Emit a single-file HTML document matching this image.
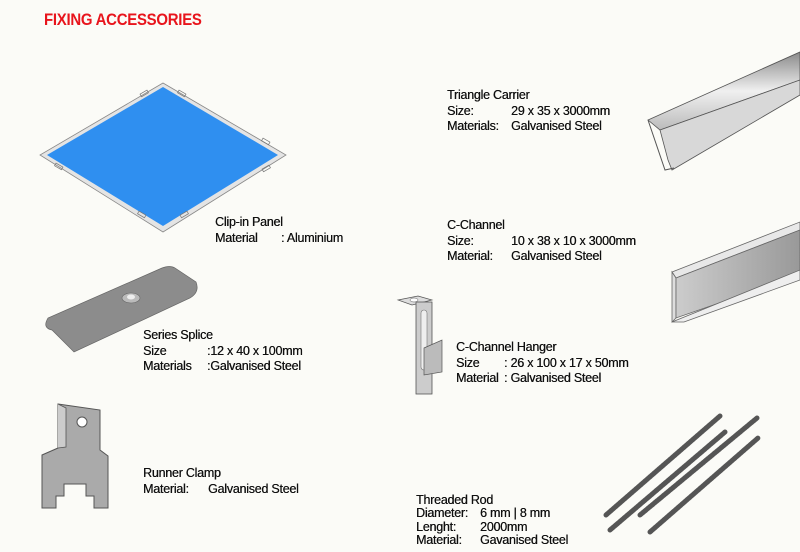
<!DOCTYPE html>
<html><head><meta charset="utf-8"><style>
body{margin:0;width:800px;height:552px;background:#fbfbf7;position:relative;overflow:hidden;font-family:"Liberation Sans Narrow","Liberation Sans",sans-serif;}
.t{position:absolute;font-size:12.5px;line-height:15.5px;color:#111;white-space:pre;letter-spacing:-0.25px;text-shadow:0.3px 0 0 #111;}
.t span{display:inline-block}
svg{position:absolute;left:0;top:0}
</style></head><body>
<svg width="800" height="552" viewBox="0 0 800 552">
<defs>
<linearGradient id="g1" x1="0" y1="0" x2="0" y2="1"><stop offset="0" stop-color="#8a8a8a"/><stop offset="0.5" stop-color="#f0f0f0"/><stop offset="1" stop-color="#bbb"/></linearGradient>
<linearGradient id="g2" x1="0" y1="0" x2="1" y2="0"><stop offset="0" stop-color="#ccc"/><stop offset="1" stop-color="#999"/></linearGradient>
</defs>
<polygon points="163,83 286,155 163,232 40,155" fill="#e4e4e4" stroke="#888" stroke-width="0.8"/>
<polygon points="163,87 278,155 163,226 47,155" fill="#2f8ff0"/>
<g fill="none" stroke="#777" stroke-width="0.7">
<rect x="140" y="92" width="8" height="3" transform="rotate(-30 144 93)"/>
<rect x="178" y="92" width="8" height="3" transform="rotate(30 182 93)"/>
<rect x="262" y="140" width="8" height="3" transform="rotate(30 266 141)"/>
<rect x="55" y="165" width="8" height="3" transform="rotate(30 59 166)"/>
<rect x="262" y="167" width="8" height="3" transform="rotate(-30 266 168)"/>
<rect x="138" y="213" width="8" height="3" transform="rotate(30 142 214)"/>
<rect x="180" y="213" width="8" height="3" transform="rotate(-30 184 214)"/>
</g>
<path d="M48,318 Q42,328 52,330 L74,352 L190,298 Q200,292 196,282 L175,268 Q170,265 162,268 Z" fill="#8c8c8c" stroke="#666" stroke-width="0.7"/>
<ellipse cx="131" cy="298" rx="9" ry="5" fill="#bbb" stroke="#666" stroke-width="0.6"/>
<ellipse cx="131" cy="297" rx="4" ry="2.5" fill="#eee"/>
<path d="M58,404 L100,410 L100,450 L108,456 L108,508 L94,508 L94,496 L86,496 L86,484 L64,484 L64,496 L56,496 L56,508 L42,508 L42,455 L58,448 Z" fill="#aaa" stroke="#555" stroke-width="1"/>
<path d="M58,404 L66,408 L66,447 L58,448" fill="#ccc" stroke="#555" stroke-width="0.8"/>
<circle cx="82" cy="422" r="5" fill="#fff" stroke="#555"/>
<polygon points="648,120 800,52 800,80 660,130" fill="url(#g1)" stroke="#555" stroke-width="0.8"/>
<polygon points="660,130 800,80 800,95 672,170 668,160" fill="#d8d8d8" stroke="#555" stroke-width="0.8"/>
<path d="M648,120 L665,170 L674,168" fill="none" stroke="#555"/>
<polygon points="672,272 800,222 800,230 676,278" fill="#e8e8e8" stroke="#666" stroke-width="0.8"/>
<polygon points="672,272 676,278 676,318 672,322" fill="#ddd" stroke="#666" stroke-width="0.8"/>
<polygon points="676,278 800,230 800,275 676,318" fill="url(#g2)" stroke="#666" stroke-width="0.8"/>
<polygon points="672,322 800,270 800,280 684,322" fill="#eee" stroke="#666" stroke-width="0.8"/>
<polygon points="398,300 418,296 432,300 412,305" fill="#ddd" stroke="#555" stroke-width="0.7"/>
<ellipse cx="414" cy="300" rx="4" ry="2" fill="#fff" stroke="#555" stroke-width="0.5"/>
<rect x="416" y="302" width="16" height="92" fill="#ccc" stroke="#555" stroke-width="0.8"/>
<rect x="421" y="310" width="6" height="60" rx="3" fill="#eee" stroke="#777" stroke-width="0.6"/>
<polygon points="424,348 442,340 442,372 424,375" fill="#bbb" stroke="#555" stroke-width="0.7"/>
<g stroke="#555" stroke-width="5" stroke-linecap="round" stroke-dasharray="2 1">
<line x1="606" y1="515" x2="720" y2="416"/>
<line x1="610" y1="530" x2="725" y2="432"/>
<line x1="640" y1="515" x2="757" y2="418"/>
<line x1="650" y1="532" x2="758" y2="438"/>
</g>
</svg>
<div class="t" style="left:44px;top:12px;color:#e8141c;font-weight:bold;font-size:17px;letter-spacing:-0.3px;text-shadow:none;transform:scaleX(0.88);transform-origin:0 0">FIXING ACCESSORIES</div>
<div class="t" style="left:215px;top:215px">Clip-in Panel
<span style="width:66px">Material</span>: Aluminium</div>
<div class="t" style="left:143px;top:328px"><span>Series Splice</span>
<span style="width:64px">Size</span>:12 x 40 x 100mm
<span style="width:64px">Materials</span>:Galvanised Steel</div>
<div class="t" style="left:143px;top:466px">Runner Clamp
<span style="width:65px">Material:</span>Galvanised Steel</div>
<div class="t" style="left:447px;top:88px">Triangle Carrier
<span style="width:64px">Size:</span>29 x 35 x 3000mm
<span style="width:64px">Materials:</span>Galvanised Steel</div>
<div class="t" style="left:447px;top:218px">C-Channel
<span style="width:64px">Size:</span>10 x 38 x 10 x 3000mm
<span style="width:64px">Material:</span>Galvanised Steel</div>
<div class="t" style="left:456px;top:340px">C-Channel Hanger
<span style="width:48px">Size</span>: 26 x 100 x 17 x 50mm
<span style="width:48px">Material</span>: Galvanised Steel</div>
<div class="t" style="left:416px;top:494px;line-height:13.3px">Threaded Rod
<span style="width:64px">Diameter:</span>6 mm | 8 mm
<span style="width:64px">Lenght:</span>2000mm
<span style="width:64px">Material:</span>Gavanised Steel</div>
</body></html>
